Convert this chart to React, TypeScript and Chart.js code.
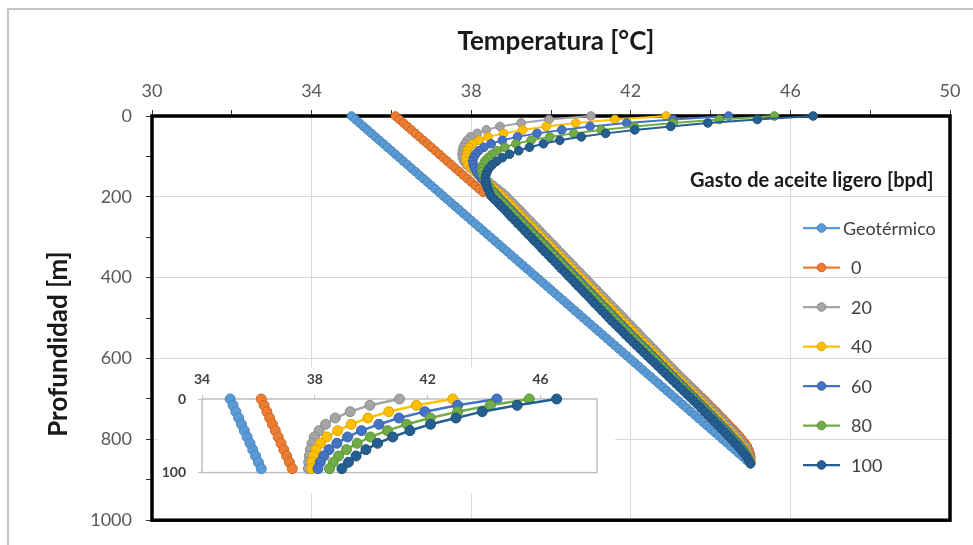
import React, { useEffect, useRef } from 'react';
import { Chart, registerables } from 'chart.js';

Chart.register(...registerables);

const FONT = "Lato, 'Open Sans', 'DejaVu Sans', sans-serif";

// Depth of each sample [m]
const depthM = [
  0, 8.6, 17.2, 25.8, 34.4, 43, 51.6, 60.2, 68.8, 77.4,
  86, 94.6, 103.2, 111.8, 120.4, 129, 137.6, 146.2, 154.8, 163.4,
  172, 180.6, 189.2, 197.8, 206.4, 215, 223.6, 232.2, 240.8, 249.4,
  258, 266.6, 275.2, 283.8, 292.4, 301, 309.6, 318.2, 326.8, 335.4,
  344, 352.6, 361.2, 369.8, 378.4, 387, 395.6, 404.2, 412.8, 421.4,
  430, 438.6, 447.2, 455.8, 464.4, 473, 481.6, 490.2, 498.8, 507.4,
  516, 524.6, 533.2, 541.8, 550.4, 559, 567.6, 576.2, 584.8, 593.4,
  602, 610.6, 619.2, 627.8, 636.4, 645, 653.6, 662.2, 670.8, 679.4,
  688, 696.6, 705.2, 713.8, 722.4, 731, 739.6, 748.2, 756.8, 765.4,
  774, 782.6, 791.2, 799.8, 808.4, 817, 825.6, 834.2, 842.8, 851.4,
  860,
];

// Temperatures [°C]
const geotermico = [
  35.0, 35.1, 35.2, 35.3, 35.4, 35.5, 35.6, 35.7, 35.8, 35.9,
  36.0, 36.1, 36.2, 36.3, 36.4, 36.5, 36.6, 36.7, 36.8, 36.9,
  37.0, 37.1, 37.2, 37.3, 37.4, 37.5, 37.6, 37.7, 37.8, 37.9,
  38.0, 38.1, 38.2, 38.3, 38.4, 38.5, 38.6, 38.7, 38.8, 38.9,
  39.0, 39.1, 39.2, 39.3, 39.4, 39.5, 39.6, 39.7, 39.8, 39.9,
  40.0, 40.1, 40.2, 40.3, 40.4, 40.5, 40.6, 40.7, 40.8, 40.9,
  41.0, 41.1, 41.2, 41.3, 41.4, 41.5, 41.6, 41.7, 41.8, 41.9,
  42.0, 42.1, 42.2, 42.3, 42.4, 42.5, 42.6, 42.7, 42.8, 42.9,
  43.0, 43.1, 43.2, 43.3, 43.4, 43.5, 43.6, 43.7, 43.8, 43.9,
  44.0, 44.1, 44.2, 44.3, 44.4, 44.5, 44.6, 44.7, 44.8, 44.9,
  45.0,
];

const gasto0 = [
  36.1, 36.2, 36.3, 36.4, 36.5, 36.6, 36.7, 36.8, 36.9, 37.0,
  37.1, 37.2, 37.3, 37.4, 37.5, 37.6, 37.7, 37.8, 37.9, 38.0,
  38.1, 38.2, 38.3, 38.5, 38.72, 38.9, 39.02, 39.15, 39.24, 39.32,
  39.41, 39.49, 39.58, 39.66, 39.74, 39.83, 39.91, 40.0, 40.08, 40.16,
  40.25, 40.33, 40.42, 40.5, 40.58, 40.67, 40.75, 40.84, 40.92, 41.0,
  41.09, 41.17, 41.26, 41.34, 41.42, 41.51, 41.59, 41.68, 41.76, 41.84,
  41.93, 42.01, 42.1, 42.18, 42.27, 42.36, 42.45, 42.54, 42.62, 42.71,
  42.8, 42.89, 42.98, 43.07, 43.16, 43.25, 43.34, 43.43, 43.52, 43.61,
  43.7, 43.79, 43.88, 43.96, 44.05, 44.14, 44.22, 44.31, 44.39, 44.47,
  44.56, 44.64, 44.72, 44.79, 44.86, 44.92, 44.96, 44.99, 45.01, 45.01,
  45.0,
];

const gasto20 = [
  41.0, 39.95, 39.25, 38.72, 38.38, 38.15, 37.98, 37.9, 37.84, 37.8,
  37.78, 37.77, 37.78, 37.81, 37.88, 37.98, 38.09, 38.21, 38.33, 38.45,
  38.56, 38.67, 38.78, 38.88, 38.96, 39.05, 39.13, 39.22, 39.3, 39.38,
  39.47, 39.55, 39.64, 39.72, 39.8, 39.89, 39.97, 40.06, 40.14, 40.22,
  40.31, 40.39, 40.48, 40.56, 40.64, 40.73, 40.81, 40.9, 40.98, 41.06,
  41.15, 41.23, 41.32, 41.4, 41.48, 41.57, 41.65, 41.74, 41.82, 41.9,
  41.99, 42.07, 42.16, 42.24, 42.32, 42.41, 42.49, 42.58, 42.66, 42.74,
  42.83, 42.91, 43.0, 43.08, 43.16, 43.25, 43.33, 43.42, 43.5, 43.58,
  43.67, 43.75, 43.84, 43.92, 44.0, 44.09, 44.17, 44.26, 44.34, 44.42,
  44.5, 44.58, 44.66, 44.73, 44.8, 44.86, 44.91, 44.95, 44.98, 44.99,
  45.0,
];

const gasto40 = [
  42.89, 41.6, 40.62, 39.88, 39.29, 38.81, 38.42, 38.2, 38.04, 37.95,
  37.9, 37.88, 37.87, 37.88, 37.92, 37.99, 38.08, 38.18, 38.28, 38.38,
  38.48, 38.58, 38.68, 38.77, 38.85, 38.94, 39.02, 39.11, 39.19, 39.27,
  39.36, 39.44, 39.53, 39.61, 39.69, 39.78, 39.86, 39.95, 40.03, 40.11,
  40.2, 40.28, 40.37, 40.45, 40.53, 40.62, 40.7, 40.79, 40.87, 40.95,
  41.04, 41.12, 41.21, 41.29, 41.37, 41.46, 41.54, 41.63, 41.71, 41.79,
  41.88, 41.96, 42.05, 42.13, 42.21, 42.3, 42.39, 42.48, 42.56, 42.64,
  42.73, 42.81, 42.9, 42.98, 43.06, 43.15, 43.23, 43.32, 43.4, 43.49,
  43.58, 43.66, 43.75, 43.83, 43.91, 44.0, 44.08, 44.17, 44.25, 44.33,
  44.42, 44.5, 44.58, 44.66, 44.73, 44.8, 44.86, 44.91, 44.95, 44.98,
  45.0,
];

const gasto60 = [
  44.45, 43.06, 41.9, 40.98, 40.27, 39.65, 39.16, 38.78, 38.5, 38.32,
  38.19, 38.11, 38.06, 38.04, 38.05, 38.08, 38.13, 38.19, 38.26, 38.34,
  38.42, 38.5, 38.58, 38.66, 38.74, 38.83, 38.91, 39.0, 39.08, 39.16,
  39.25, 39.33, 39.42, 39.5, 39.58, 39.67, 39.75, 39.84, 39.92, 40.0,
  40.09, 40.17, 40.26, 40.34, 40.42, 40.51, 40.59, 40.68, 40.76, 40.84,
  40.93, 41.01, 41.1, 41.18, 41.26, 41.35, 41.43, 41.52, 41.6, 41.68,
  41.77, 41.85, 41.94, 42.02, 42.11, 42.2, 42.29, 42.38, 42.46, 42.55,
  42.64, 42.72, 42.81, 42.89, 42.98, 43.07, 43.15, 43.24, 43.33, 43.41,
  43.5, 43.59, 43.67, 43.76, 43.85, 43.93, 44.02, 44.1, 44.19, 44.27,
  44.36, 44.44, 44.52, 44.6, 44.68, 44.75, 44.82, 44.88, 44.93, 44.97,
  45.0,
];

const gasto80 = [
  45.6, 44.22, 43.06, 42.09, 41.26, 40.57, 39.97, 39.5, 39.12, 38.84,
  38.65, 38.52, 38.42, 38.34, 38.29, 38.27, 38.27, 38.29, 38.33, 38.38,
  38.44, 38.5, 38.56, 38.62, 38.7, 38.79, 38.87, 38.96, 39.04, 39.12,
  39.21, 39.29, 39.38, 39.46, 39.54, 39.63, 39.71, 39.8, 39.88, 39.96,
  40.05, 40.13, 40.22, 40.3, 40.38, 40.47, 40.55, 40.64, 40.72, 40.8,
  40.89, 40.97, 41.06, 41.14, 41.22, 41.31, 41.39, 41.48, 41.56, 41.64,
  41.73, 41.81, 41.9, 41.98, 42.07, 42.16, 42.25, 42.34, 42.42, 42.51,
  42.6, 42.68, 42.77, 42.85, 42.94, 43.03, 43.11, 43.2, 43.29, 43.37,
  43.46, 43.55, 43.63, 43.72, 43.81, 43.89, 43.98, 44.06, 44.15, 44.23,
  44.32, 44.4, 44.48, 44.56, 44.64, 44.72, 44.79, 44.86, 44.92, 44.97,
  45.0,
];

const gasto100 = [
  46.57, 45.17, 43.93, 43.0, 42.1, 41.37, 40.76, 40.22, 39.81, 39.46,
  39.19, 38.96, 38.78, 38.64, 38.53, 38.45, 38.4, 38.37, 38.36, 38.37,
  38.39, 38.42, 38.46, 38.5, 38.58, 38.67, 38.75, 38.84, 38.92, 39.0,
  39.09, 39.17, 39.26, 39.34, 39.42, 39.51, 39.59, 39.68, 39.76, 39.84,
  39.93, 40.01, 40.1, 40.18, 40.26, 40.35, 40.43, 40.52, 40.6, 40.68,
  40.77, 40.85, 40.94, 41.02, 41.1, 41.19, 41.27, 41.36, 41.44, 41.52,
  41.61, 41.7, 41.79, 41.87, 41.96, 42.05, 42.14, 42.23, 42.32, 42.41,
  42.5, 42.59, 42.68, 42.77, 42.86, 42.95, 43.04, 43.13, 43.22, 43.31,
  43.4, 43.49, 43.58, 43.67, 43.76, 43.84, 43.93, 44.02, 44.1, 44.19,
  44.27, 44.36, 44.44, 44.52, 44.6, 44.68, 44.76, 44.83, 44.9, 44.95,
  45.0,
];

const seriesLabels = ['Geotérmico', '0', '20', '40', '60', '80', '100'];
const seriesValues = [geotermico, gasto0, gasto20, gasto40, gasto60, gasto80, gasto100];
const seriesColors = ['#5B9BD5', '#ED7D31', '#A5A5A5', '#FFC000', '#4472C4', '#70AD47', '#255E91'];
const seriesBorders = ['#4a86bf', '#c9682a', '#8c8c8c', '#d9a300', '#3a61a7', '#5f933c', '#1f507b'];

const xTitle = 'Temperatura [°C]';
const yTitle = 'Profundidad [m]';
const legendTitle = 'Gasto de aceite ligero [bpd]';

const xMin = 30, xMax = 50, xMajor = 4;
const yMin = 0, yMax = 1000, yMajor = 200;
const insetXMin = 34, insetXMax = 48, insetXMajor = 4;
const insetYMax = 100;

function makeDatasets(maxDepth: number, radius: number, width: number) {
  const n = seriesValues.length;
  return seriesValues.map((vals, s) => ({
    label: seriesLabels[s],
    data: depthM
      .map((d, i) => ({ x: vals[i], y: d }))
      .filter((p) => p.y <= maxDepth),
    showLine: true,
    borderColor: seriesColors[s],
    backgroundColor: seriesColors[s],
    pointBackgroundColor: seriesColors[s],
    pointBorderColor: seriesBorders[s],
    pointBorderWidth: 1,
    pointRadius: radius,
    borderWidth: width,
    tension: 0,
    clip: false as const,
    order: n - 1 - s,
  }));
}

const mainDecor = {
  id: 'mainDecor',
  beforeDraw(chart: any) {
    const ctx = chart.ctx;
    ctx.save();
    ctx.fillStyle = '#ffffff';
    ctx.fillRect(0, 0, chart.width, chart.height);
    ctx.strokeStyle = '#c6c6c6';
    ctx.lineWidth = 2;
    ctx.beginPath();
    ctx.moveTo(8, chart.height + 5);
    ctx.lineTo(8, 9);
    ctx.lineTo(chart.width + 5, 9);
    ctx.stroke();
    ctx.restore();
  },
  beforeDatasetsDraw(chart: any) {
    const ctx = chart.ctx;
    const a = chart.chartArea;
    ctx.save();
    ctx.strokeStyle = '#000000';
    ctx.lineWidth = 3.5;
    ctx.strokeRect(a.left, a.top, a.right - a.left, a.bottom - a.top);
    ctx.restore();
  },
  afterDraw(chart: any) {
    const ctx = chart.ctx;
    ctx.save();
    ctx.fillStyle = '#1a1a1a';
    ctx.font = `bold 26px ${FONT}`;
    ctx.textAlign = 'center';
    ctx.textBaseline = 'middle';
    ctx.fillText(xTitle, 556, 42);
    ctx.save();
    ctx.translate(59, 344);
    ctx.rotate(-Math.PI / 2);
    ctx.fillText(yTitle, 0, 0);
    ctx.restore();
    ctx.font = `bold 20px ${FONT}`;
    ctx.textAlign = 'left';
    ctx.fillStyle = '#1a1a1a';
    ctx.fillText(legendTitle, 690, 181);
    const rowY0 = 228, rowStep = 39.5;
    seriesLabels.forEach((lab, s) => {
      const y = rowY0 + s * rowStep;
      ctx.strokeStyle = seriesColors[s];
      ctx.lineWidth = 2.25;
      ctx.beginPath();
      ctx.moveTo(803, y);
      ctx.lineTo(840, y);
      ctx.stroke();
      ctx.beginPath();
      ctx.arc(821.5, y, 4.3, 0, Math.PI * 2);
      ctx.fillStyle = seriesColors[s];
      ctx.fill();
      ctx.strokeStyle = seriesBorders[s];
      ctx.lineWidth = 1;
      ctx.stroke();
      ctx.fillStyle = '#404040';
      ctx.font = `18px ${FONT}`;
      ctx.fillText(lab, s === 0 ? 843 : 851, y + 1);
    });
    ctx.restore();
  },
};

const insetDecor = {
  id: 'insetDecor',
  beforeDraw(chart: any) {
    const ctx = chart.ctx;
    ctx.save();
    ctx.fillStyle = '#ffffff';
    ctx.fillRect(0, 0, chart.width, chart.height);
    ctx.restore();
  },
  beforeDatasetsDraw(chart: any) {
    const ctx = chart.ctx;
    const a = chart.chartArea;
    ctx.save();
    ctx.strokeStyle = '#bfbfbf';
    ctx.lineWidth = 1.5;
    ctx.strokeRect(a.left, a.top, a.right - a.left, a.bottom - a.top);
    ctx.restore();
  },
};

export default function App() {
  const mainRef = useRef<HTMLCanvasElement>(null);
  const insetRef = useRef<HTMLCanvasElement>(null);

  useEffect(() => {
    const main = new Chart(mainRef.current as HTMLCanvasElement, {
      type: 'scatter',
      data: { datasets: makeDatasets(yMax, 4.3, 2) as any },
      options: {
        animation: false,
        responsive: false,
        maintainAspectRatio: false,
        layout: { padding: { left: 0, top: 0, right: 23, bottom: 23 } },
        plugins: { legend: { display: false }, tooltip: { enabled: false } },
        scales: {
          x: {
            type: 'linear',
            position: 'top',
            min: xMin,
            max: xMax,
            afterFit: (s: any) => { s.height = 116; },
            ticks: {
              stepSize: 2,
              padding: 8,
              autoSkip: false,
              color: '#595959',
              font: { family: FONT, size: 18 },
              callback: (v: any) => ((v - xMin) % xMajor === 0 ? String(v) : ''),
            },
            grid: {
              color: (c: any) => {
                const v = c.tick ? c.tick.value : NaN;
                return (v - xMin) % xMajor === 0 && v !== xMin && v !== xMax ? '#d9d9d9' : 'rgba(0,0,0,0)';
              },
              tickColor: '#333333',
              tickLength: 6,
              lineWidth: 1,
            },
            border: { display: false },
          },
          y: {
            type: 'linear',
            reverse: true,
            min: yMin,
            max: yMax,
            afterFit: (s: any) => { s.width = 152; },
            ticks: {
              stepSize: 100,
              padding: 14,
              autoSkip: false,
              color: '#595959',
              font: { family: FONT, size: 18 },
              callback: (v: any) => (v % yMajor === 0 ? String(v) : ''),
            },
            grid: {
              color: (c: any) => {
                const v = c.tick ? c.tick.value : NaN;
                return v % yMajor === 0 && v !== yMin && v !== yMax ? '#d9d9d9' : 'rgba(0,0,0,0)';
              },
              tickColor: '#333333',
              tickLength: 6,
              lineWidth: 1,
            },
            border: { display: false },
          },
        },
      },
      plugins: [mainDecor],
    } as any);

    const inset = new Chart(insetRef.current as HTMLCanvasElement, {
      type: 'scatter',
      data: { datasets: makeDatasets(insetYMax, 5, 2.5) as any },
      options: {
        animation: false,
        responsive: false,
        maintainAspectRatio: false,
        layout: { padding: { left: 0, top: 0, right: 18, bottom: 4 } },
        plugins: { legend: { display: false }, tooltip: { enabled: false } },
        scales: {
          x: {
            type: 'linear',
            position: 'top',
            min: insetXMin,
            max: insetXMax,
            afterFit: (s: any) => { s.height = 32; },
            ticks: {
              stepSize: 2,
              padding: 7,
              autoSkip: false,
              color: '#404040',
              font: { family: FONT, size: 14, weight: 'bold' },
              callback: (v: any) => ((v - insetXMin) % insetXMajor === 0 && v !== insetXMax ? String(v) : ''),
            },
            grid: {
              drawOnChartArea: false,
              tickColor: (c: any) => {
                const v = c.tick ? c.tick.value : NaN;
                return (v - insetXMin) % insetXMajor === 0 ? '#bfbfbf' : 'rgba(0,0,0,0)';
              },
              tickLength: 4,
            },
            border: { display: false },
          },
          y: {
            type: 'linear',
            reverse: true,
            min: 0,
            max: insetYMax,
            afterFit: (s: any) => { s.width = 45; },
            ticks: {
              stepSize: insetYMax,
              padding: 12,
              color: '#404040',
              font: { family: FONT, size: 14, weight: 'bold' },
            },
            grid: { drawOnChartArea: false, tickColor: '#bfbfbf', tickLength: 4 },
            border: { display: false },
          },
        },
      },
      plugins: [insetDecor],
    } as any);

    return () => {
      main.destroy();
      inset.destroy();
    };
  }, []);

  return (
    <div style={{ position: 'absolute', left: 0, top: 0, width: 973, height: 545, background: '#fff', overflow: 'hidden' }}>
      <canvas ref={mainRef} width={973} height={545} style={{ position: 'absolute', left: 0, top: 0 }} />
      <canvas ref={insetRef} width={458} height={126} style={{ position: 'absolute', left: 157, top: 367 }} />
    </div>
  );
}
